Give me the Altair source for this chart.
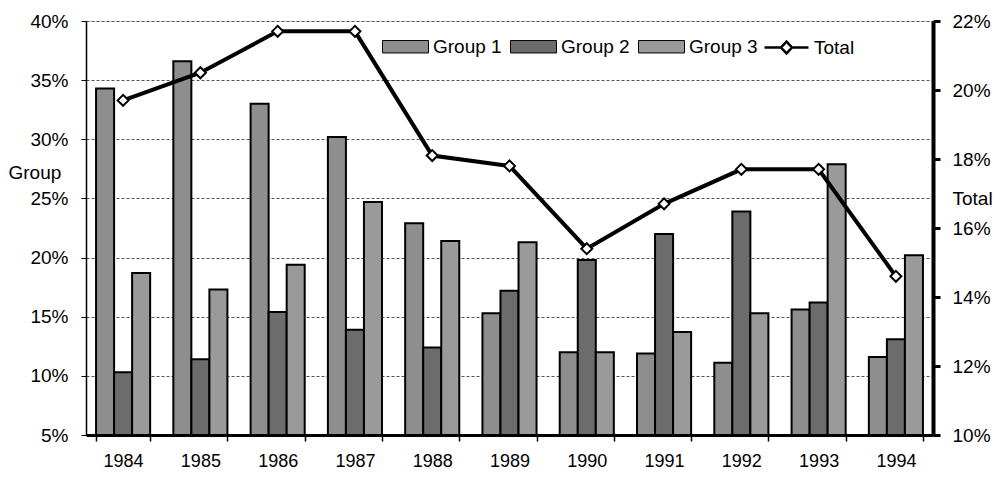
import altair as alt
import pandas as pd

years = ["1984", "1985", "1986", "1987", "1988", "1989", "1990", "1991", "1992", "1993", "1994"]
group1 = [34.3, 36.6, 33.0, 30.2, 22.9, 15.3, 12.0, 11.9, 11.1, 15.6, 11.6]
group2 = [10.3, 11.4, 15.4, 13.9, 12.4, 17.2, 19.8, 22.0, 23.9, 16.2, 13.1]
group3 = [18.7, 17.3, 19.4, 24.7, 21.4, 21.3, 12.0, 13.7, 15.3, 27.9, 20.2]
total = [19.7, 20.5, 21.7, 21.7, 18.1, 17.8, 15.4, 16.7, 17.7, 17.7, 14.6]

groups = ["Group 1", "Group 2", "Group 3"]
group_fills = ["#8e8e8e", "#6c6c6c", "#9a9a9a"]
left_ticks = [5, 10, 15, 20, 25, 30, 35, 40]
right_ticks = [10, 12, 14, 16, 18, 20, 22]

rows = []
for g, vals in zip(groups, [group1, group2, group3]):
    for yr, v in zip(years, vals):
        rows.append({"year": yr, "group": g, "value": v})
bars_df = pd.DataFrame(rows)
line_df = pd.DataFrame({"year": years, "total": total, "series": ["Total"] * len(years)})

FONT = "Liberation Sans"
NARROW = "Liberation Sans Narrow, Arial Narrow, Liberation Sans"

xscale = alt.Scale(domain=years, paddingInner=0.3, paddingOuter=0.13)
xaxis = alt.Axis(title=None, labelAngle=0, tickBand="extent", domainWidth=3,
                 domainColor="black", tickColor="black", tickSize=6, tickWidth=1.5,
                 labelPadding=11, labelFont=NARROW, labelFontSize=18,
                 labelColor="black", grid=False)

bars = alt.Chart(bars_df).mark_bar(stroke="black", strokeWidth=2).encode(
    x=alt.X("year:N", scale=xscale, sort=years, axis=xaxis),
    xOffset=alt.XOffset("group:N", sort=groups,
                        scale=alt.Scale(paddingInner=0, paddingOuter=0)),
    y=alt.Y("value:Q", scale=alt.Scale(domain=[5, 40], zero=False, nice=False),
            axis=alt.Axis(values=left_ticks, labelExpr="datum.value + '%'",
                          title="Group", titleAngle=0, titleX=-78, titleY=151,
                          titleAlign="left", titleBaseline="middle",
                          titleFontSize=19, titleFontWeight="normal", titleFont=FONT,
                          titleColor="black",
                          labelFont=FONT, labelFontSize=19, labelColor="black",
                          tickSize=5, labelPadding=13, tickColor="black",
                          domainColor="black", domainWidth=1.5,
                          grid=True, gridDash=[3, 2], gridColor="#555555",
                          gridWidth=1)),
    y2=alt.datum(5),
    fill=alt.Fill("group:N", sort=groups,
                  scale=alt.Scale(domain=groups, range=group_fills),
                  legend=alt.Legend(title=None, orient="none", legendX=296,
                                    legendY=2, direction="horizontal",
                                    symbolType="M-1,-0.27H1V0.27H-1Z",
                                    symbolSize=2116, symbolStrokeColor="black",
                                    symbolStrokeWidth=1, symbolOpacity=1,
                                    labelFont=FONT, labelFontSize=19,
                                    labelColor="black", labelOffset=4,
                                    columnPadding=6, padding=0)),
)

line = alt.Chart(line_df).mark_line(
    strokeWidth=4,
    point=alt.OverlayMarkDef(shape="diamond", filled=True, fill="white",
                             stroke="black", strokeWidth=2, size=120),
).encode(
    x=alt.X("year:N", scale=xscale, sort=years, axis=xaxis),
    y=alt.Y("total:Q", scale=alt.Scale(domain=[10, 22], zero=False, nice=False),
            axis=alt.Axis(orient="right", values=right_ticks,
                          labelExpr="datum.value + '%'",
                          title="Total", titleAngle=0, titleX=19, titleY=177,
                          titleAlign="left", titleBaseline="middle",
                          titleFontSize=19, titleFontWeight="normal", titleFont=FONT,
                          titleColor="black",
                          labelFont=FONT, labelFontSize=19, labelColor="black",
                          tickSize=7, tickWidth=3, labelPadding=12,
                          tickColor="black", domainColor="black", domainWidth=4,
                          grid=False)),
    stroke=alt.Stroke("series:N", scale=alt.Scale(domain=["Total"], range=["black"]),
                      legend=alt.Legend(title=None, orient="none", legendX=677,
                                        legendY=3,
                                        symbolType="M-1,0H-0.25M0.25,0H1M-0.25,0L0,-0.27L0.25,0L0,0.27Z",
                                        symbolSize=1936, symbolFillColor="white",
                                        symbolStrokeColor="black",
                                        symbolStrokeWidth=2.5,
                                        labelFont=FONT, labelFontSize=19,
                                        labelColor="black", labelOffset=4,
                                        padding=0)),
)

chart = alt.layer(bars, line).resolve_scale(y="independent").properties(
    width=847, height=414,
    autosize=alt.AutoSizeParams(type="none"),
    padding={"left": 78, "top": 13, "right": 61, "bottom": 35},
    background="white",
).configure_view(stroke="black", strokeWidth=1).configure(font=FONT)

chart.save("out.html", embed_options={"renderer": "svg", "actions": False})
